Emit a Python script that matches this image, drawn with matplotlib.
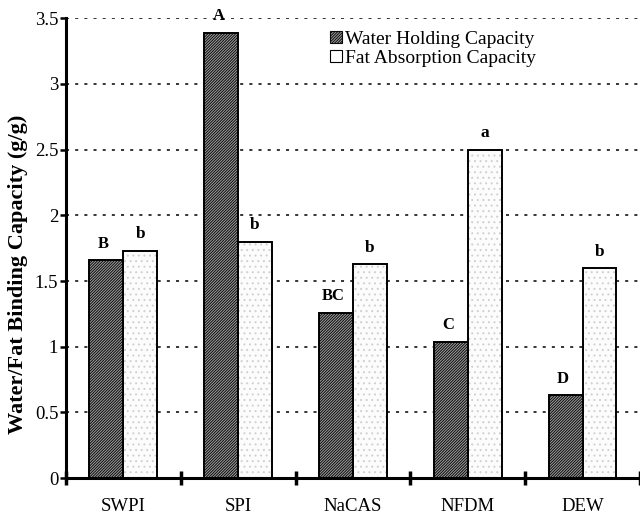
import numpy as np
import matplotlib.pyplot as plt
from matplotlib.patches import Patch

plt.rcParams['font.family'] = ['Liberation Serif', 'DejaVu Serif']
plt.rcParams['hatch.linewidth'] = 0.7

# data
proteins = ['SWPI', 'SPI', 'NaCAS', 'NFDM', 'DEW']
water_holding = [1.66, 3.39, 1.26, 1.04, 0.63]
fat_absorption = [1.73, 1.80, 1.63, 2.50, 1.60]
water_letters = ['B', 'A', 'BC', 'C', 'D']
fat_letters = ['b', 'b', 'b', 'a', 'b']
yticks = [0, 0.5, 1, 1.5, 2, 2.5, 3, 3.5]

dark_hatch = '/' * 12

fig = plt.figure(figsize=(6.4, 5.17), dpi=100)
ax = fig.add_axes([0.103, 0.075, 0.897, 0.89])

x = np.arange(len(proteins)) + 0.5
w = 0.295

# fill + pattern first, then plain black outlines on top
ax.bar(x - w / 2, water_holding, w, color='#a0a0a0', hatch=dark_hatch,
       edgecolor='#0a0a0a', linewidth=0, zorder=2)
ax.bar(x + w / 2, fat_absorption, w, color='#fcfcfc', hatch='...',
       edgecolor='#d0d0d0', linewidth=0, zorder=2)
ax.bar(x - w / 2, water_holding, w, fill=False, edgecolor='black',
       linewidth=1.4, zorder=3)
ax.bar(x + w / 2, fat_absorption, w, fill=False, edgecolor='black',
       linewidth=1.4, zorder=3)

for xi, v, t in zip(x - w / 2, water_holding, water_letters):
    ax.annotate(t, (xi, v), xytext=(-2, 6), textcoords='offset points',
                ha='center', va='bottom', fontsize=12, fontweight='bold')
for xi, v, t in zip(x + w / 2, fat_absorption, fat_letters):
    ax.annotate(t, (xi, v), xytext=(0, 6), textcoords='offset points',
                ha='center', va='bottom', fontsize=12.5, fontweight='bold')

ax.set_xlim(0, 5)
ax.set_ylim(0, 3.5)
ax.set_yticks(yticks)
ax.set_yticklabels(['%g' % t for t in yticks], fontsize=13.5)
for t in yticks[1:]:
    ax.axhline(t, color='black', linestyle=(0, (2, 4)), linewidth=1.1, zorder=1)

ax.set_xticks(np.arange(0, 6))
ax.set_xticklabels([])
ax.set_xticks(x, minor=True)
ax.set_xticklabels(proteins, minor=True, fontsize=13.5)
ax.tick_params(axis='x', which='major', direction='inout', length=10, width=2.5)
ax.tick_params(axis='x', which='minor', length=0, pad=14)
ax.tick_params(axis='y', direction='out', length=4, width=1.8, pad=1.5)

for s in ['top', 'right']:
    ax.spines[s].set_visible(False)
ax.spines['left'].set_linewidth(2.2)
ax.spines['bottom'].set_linewidth(2.2)

ax.set_ylabel('Water/Fat Binding Capacity (g/g)', fontsize=16,
              fontweight='bold')
ax.yaxis.set_label_coords(-0.066, 0.443)

handles = [
    Patch(facecolor='#a0a0a0', hatch=dark_hatch, edgecolor='#0a0a0a', linewidth=0.8),
    Patch(facecolor='white', edgecolor='black', linewidth=0.8),
]
ax.legend(handles, ['Water Holding Capacity', 'Fat Absorption Capacity'],
          loc='upper left', bbox_to_anchor=(0.43, 1.011), frameon=False,
          fontsize=14, handlelength=0.6, handleheight=0.6,
          handletextpad=0.15, labelspacing=0.1)

fig.savefig('out.png', dpi=100)
